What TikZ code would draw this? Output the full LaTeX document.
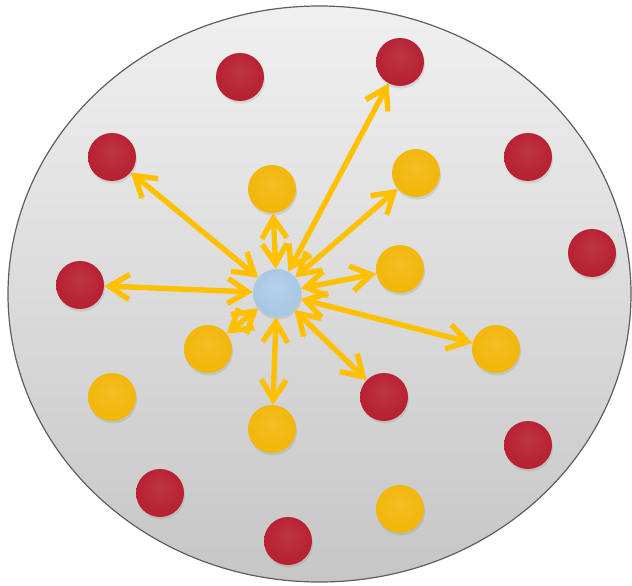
\documentclass[tikz,border=0pt]{standalone}
\usetikzlibrary{arrows.meta,shadows}
\definecolor{ringline}{HTML}{5E5E5E}
\definecolor{ringtop}{HTML}{F0F0F0}
\definecolor{ringbot}{HTML}{C6C6C6}
\definecolor{linkgold}{HTML}{FFC000}
\definecolor{ballred}{HTML}{B51B2D}
\definecolor{ballgold}{HTML}{F2B400}
\definecolor{ballblue}{HTML}{A4C6E4}
\pgfdeclareradialshading{redsphere}{\pgfpoint{0bp}{6bp}}{%
  color(0bp)=(ballred!88!white); color(20bp)=(ballred!96!white);
  color(38bp)=(ballred); color(47bp)=(ballred!78!black);
  color(56bp)=(ballred!45!black)}
\pgfdeclareradialshading{goldsphere}{\pgfpoint{0bp}{6bp}}{%
  color(0bp)=(ballgold!85!white); color(20bp)=(ballgold!95!white);
  color(38bp)=(ballgold); color(47bp)=(ballgold!78!black);
  color(56bp)=(ballgold!45!black)}
\pgfdeclareradialshading{bluesphere}{\pgfpoint{0bp}{6bp}}{%
  color(0bp)=(ballblue!80!white); color(20bp)=(ballblue!95!white);
  color(38bp)=(ballblue); color(47bp)=(ballblue!78!black);
  color(56bp)=(ballblue!45!black)}

\begin{document}
\begin{tikzpicture}[x=1pt, y=-1pt,
        ball/.style={circle, minimum size=48pt, inner sep=0pt,
          drop shadow={opacity=0.2, shadow xshift=1pt, shadow yshift=-2.5pt}},
        redball/.style={ball, shading=redsphere},
        goldball/.style={ball, shading=goldsphere},
        hubball/.style={ball, shading=bluesphere},
        link/.style={draw=linkgold, line width=5.4pt, <->,
          >={Straight Barb[length=20pt,width=25pt]},
          preaction={draw=black, opacity=0.1, transform canvas={xshift=1pt, yshift=-2pt}}}]
      \useasboundingbox (0,0) rectangle (632,586);

      % the cell
      \draw[draw=ringline, line width=1.2pt, top color=ringtop, bottom color=ringbot]
        (319.5,294) ellipse [x radius=311.5, y radius=288];

      % far ones
      \node[redball] (r1)  at (240,77)  {};
      \node[redball] (r2)  at (400,62)  {};
      \node[redball] (r3)  at (112,157) {};
      \node[redball] (r4)  at (528,157) {};
      \node[redball] (r5)  at (592,253) {};
      \node[redball] (r6)  at (80,285)  {};
      \node[redball] (r7)  at (384,397) {};
      \node[redball] (r8)  at (528,445) {};
      \node[redball] (r9)  at (160,493) {};
      \node[redball] (r10) at (288,541) {};

      % near ones
      \node[goldball] (g1) at (272,189) {};
      \node[goldball] (g2) at (416,173) {};
      \node[goldball] (g3) at (400,269) {};
      \node[goldball] (g4) at (208,349) {};
      \node[goldball] (g5) at (496,349) {};
      \node[goldball] (g6) at (112,397) {};
      \node[goldball] (g7) at (272,429) {};
      \node[goldball] (g8) at (400,509) {};

      \node[hubball] (hub) at (277,293) {};

      % links out of the hub
      \draw[link] (hub) -- (r2);
      \draw[link] (hub) -- (g2);
      \draw[link] (hub) -- (r3);
      \draw[link] (hub) -- (g1);
      \draw[link] (hub) -- (g3);
      \draw[link] (hub) -- (r6);
      \draw[link] (hub) -- (g4);
      \draw[link] (hub) -- (g5);
      \draw[link] (hub) -- (r7);
      \draw[link] (hub) -- (g7);
    \end{tikzpicture}
\end{document}
